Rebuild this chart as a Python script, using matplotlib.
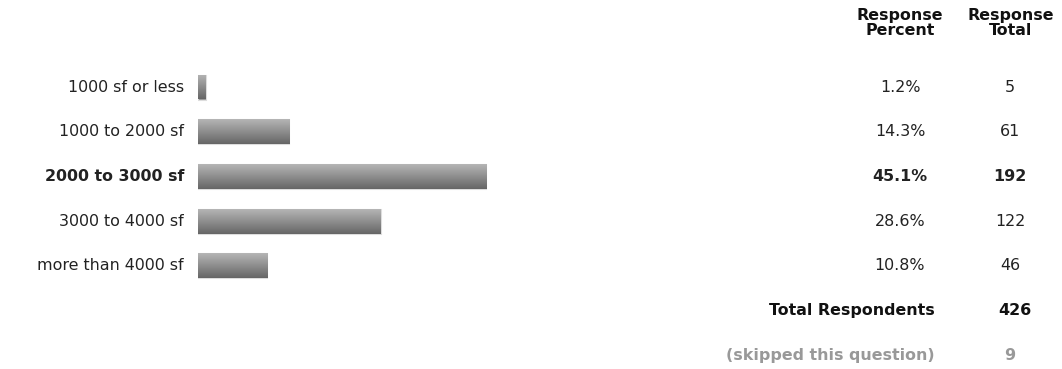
import matplotlib.pyplot as plt
import numpy as np
from matplotlib.transforms import blended_transform_factory

plt.rcParams['font.family'] = ['DejaVu Sans']

categories = ["1000 sf or less", "1000 to 2000 sf", "2000 to 3000 sf",
              "3000 to 4000 sf", "more than 4000 sf"]
percents = [1.2, 14.3, 45.1, 28.6, 10.8]
totals = [5, 61, 192, 122, 46]
total_respondents = 426
skipped = 9
bold_row = 2

W, H = 1062, 369
fig = plt.figure(figsize=(W / 100, H / 100), dpi=100)

# bar axes: starts at x=198px, 100% = 639px
ax = fig.add_axes([198 / W, 0, 639 / W, 1])
row_px = 44.67
ax.axis('off')

grad = np.linspace(0.71, 0.40, 64).reshape(-1, 1)
ypos = np.arange(len(categories))
bars = ax.barh(ypos, percents, height=25 / row_px, color='#999999',
               edgecolor='#dddddd', linewidth=0.8)
for b in bars:
    x0, y0 = b.get_x(), b.get_y()
    im = ax.imshow(grad, cmap='gray', vmin=0, vmax=1, aspect='auto',
                   extent=[x0, x0 + b.get_width(), y0 + b.get_height(), y0],
                   interpolation='bilinear', zorder=3)
    im.set_clip_path(b)
ax.set_xlim(0, 100)
ax.set_ylim((H - 87) / row_px, -87 / row_px)

tf = blended_transform_factory(fig.transFigure, ax.transData)
fs = 11.4
dark = '#222222'
for i, (c, p, t) in enumerate(zip(categories, percents, totals)):
    w = 'bold' if i == bold_row else 'normal'
    fig.text(184 / W, i, c, ha='right', va='center', fontsize=fs,
             fontweight=w, color=dark, transform=tf)
    fig.text(900 / W, i, f"{p}%", ha='center', va='center', fontsize=fs,
             fontweight=w, color=dark, transform=tf)
    fig.text(1010 / W, i, str(t), ha='center', va='center', fontsize=fs,
             fontweight=w, color=dark, transform=tf)

fig.text(935 / W, 5, "Total Respondents", ha='right', va='center',
         fontsize=fs, fontweight='bold', color='#111111', transform=tf)
fig.text(1015 / W, 5, str(total_respondents), ha='center', va='center',
         fontsize=fs, fontweight='bold', color='#111111', transform=tf)
fig.text(935 / W, 6, "(skipped this question)", ha='right', va='center',
         fontsize=fs, fontweight='bold', color='#999999', transform=tf)
fig.text(1010 / W, 6, str(skipped), ha='center', va='center',
         fontsize=fs, fontweight='bold', color='#999999', transform=tf)

fig.text(900 / W, 1 - 23 / H, "Response\nPercent", ha='center', va='center',
         fontsize=fs, fontweight='bold', color='#111111', linespacing=1.05)
fig.text(1011 / W, 1 - 23 / H, "Response\nTotal", ha='center', va='center',
         fontsize=fs, fontweight='bold', color='#111111', linespacing=1.05)

fig.savefig('out.png', dpi=100)
